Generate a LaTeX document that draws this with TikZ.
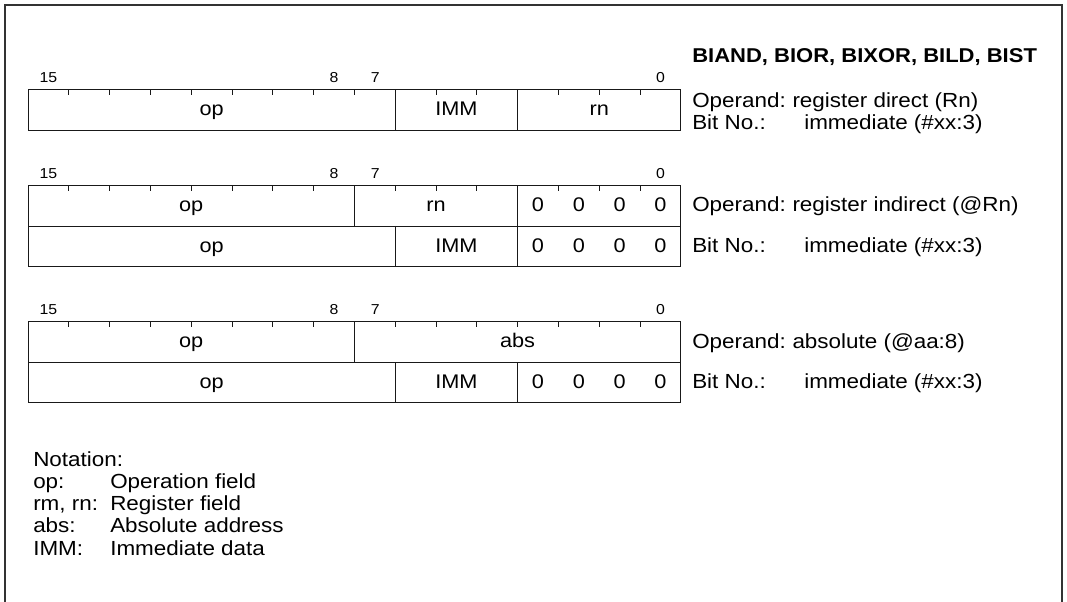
\documentclass[tikz,border=0pt]{standalone}
\usepackage{fontspec}
\setmainfont{Liberation Sans}[FakeStretch=1.1]
\usetikzlibrary{positioning}
\tikzset{%
    sheet/.style={line width=1.1pt,draw=black!80},
    field/.style={line width=0.6pt,draw=black!90},
    bittick/.style={line width=0.6pt,draw=black!90},
    bitno/.style={inner sep=0pt,anchor=base,font=\fontsize{10.8}{12}\selectfont},
    entry/.style={inner sep=0pt,anchor=base,font=\fontsize{14.8}{17}\selectfont},
    remark/.style={inner sep=0pt,anchor=base west,font=\fontsize{15.3}{18}\selectfont},
    value/.style={remark,xshift=4.6pt},
    headline/.style={inner sep=0pt,anchor=base west,font=\fontsize{15}{18}\selectfont\bfseries},
}

\begin{document}
\begin{tikzpicture}[x=0.75pt,y=-0.75pt]
        \useasboundingbox (0,0) rectangle (1067,602);
        \draw[sheet] (5,602) -- (5,5) -- (1062,5) -- (1062,602);

        \node[headline] (title) at (692,63) {BIAND, BIOR, BIXOR, BILD, BIST};

        % register direct
        \node[bitno] (hi1) at (48.4,83) {15};
        \node[bitno] (b8a) at (334,83) {8};
        \node[bitno] (b7a) at (375.2,83) {7};
        \node[bitno] (lo1) at (660.4,83) {0};
        \draw[field] (28,89.5) rectangle (680.8,130);
        \draw[field] (395.2,89.5) -- (395.2,130);
        \draw[field] (517.6,89.5) -- (517.6,130);
        \foreach \k in {1,...,8,10,11,13,14,15}
            \draw[bittick] (28+\k*40.8,89.5) -- +(0,5.7);
        \node[entry] (op1) at (211.6,115.5) {op};
        \node[entry] (imm1) at (456.4,115.5) {IMM};
        \node[entry] (rn1) at (599.2,115.5) {rn};
        \node[remark] (opd1) at (692,107.5) {Operand:};
        \node[value] (opv1) at (opd1.base east) {register direct (Rn)};
        \node[remark] (bit1) at (692,129.5) {Bit No.:};
        \node[remark] (bitv1) at (804,129.5) {immediate (\#xx:3)};

        % register indirect
        \node[bitno] (hi2) at (48.4,179) {15};
        \node[bitno] (b8b) at (334,179) {8};
        \node[bitno] (b7b) at (375.2,179) {7};
        \node[bitno] (lo2) at (660.4,179) {0};
        \draw[field] (28,185.5) rectangle (680.8,266.5);
        \draw[field] (28,226) -- (680.8,226);
        \draw[field] (354.4,185.5) -- (354.4,226);
        \draw[field] (395.2,226) -- (395.2,266.5);
        \draw[field] (517.6,185.5) -- (517.6,266.5);
        \foreach \k in {1,...,7,9,10,11,13,14,15}
            \draw[bittick] (28+\k*40.8,185.5) -- +(0,5.7);
        \node[entry] (op2a) at (191.2,211.5) {op};
        \node[entry] (rn2a) at (436,211.5) {rn};
        \node[entry] (z2a3) at (538,211.5) {0};
        \node[entry] (z2a2) at (578.8,211.5) {0};
        \node[entry] (z2a1) at (619.6,211.5) {0};
        \node[entry] (z2a0) at (660.4,211.5) {0};
        \node[entry] (op2b) at (211.6,252.5) {op};
        \node[entry] (imm2b) at (456.4,252.5) {IMM};
        \node[entry] (z2b3) at (538,252.5) {0};
        \node[entry] (z2b2) at (578.8,252.5) {0};
        \node[entry] (z2b1) at (619.6,252.5) {0};
        \node[entry] (z2b0) at (660.4,252.5) {0};
        \node[remark] (opd2) at (692,212) {Operand:};
        \node[value] (opv2) at (opd2.base east) {register indirect (@Rn)};
        \node[remark] (bit2) at (692,253) {Bit No.:};
        \node[remark] (bitv2) at (804,253) {immediate (\#xx:3)};

        % absolute
        \node[bitno] (hi3) at (48.4,315) {15};
        \node[bitno] (b8c) at (334,315) {8};
        \node[bitno] (b7c) at (375.2,315) {7};
        \node[bitno] (lo3) at (660.4,315) {0};
        \draw[field] (28,321.5) rectangle (680.8,402.5);
        \draw[field] (28,362) -- (680.8,362);
        \draw[field] (354.4,321.5) -- (354.4,362);
        \draw[field] (395.2,362) -- (395.2,402.5);
        \draw[field] (517.6,362) -- (517.6,402.5);
        \foreach \k in {1,...,7,9,10,...,15}
            \draw[bittick] (28+\k*40.8,321.5) -- +(0,5.7);
        \node[entry] (op3a) at (191.2,347.5) {op};
        \node[entry] (abs3a) at (517.6,347.5) {abs};
        \node[entry] (op3b) at (211.6,388) {op};
        \node[entry] (imm3b) at (456.4,388) {IMM};
        \node[entry] (z3b3) at (538,388) {0};
        \node[entry] (z3b2) at (578.8,388) {0};
        \node[entry] (z3b1) at (619.6,388) {0};
        \node[entry] (z3b0) at (660.4,388) {0};
        \node[remark] (opd3) at (692,348) {Operand:};
        \node[value] (opv3) at (opd3.base east) {absolute (@aa:8)};
        \node[remark] (bit3) at (692,388.5) {Bit No.:};
        \node[remark] (bitv3) at (804,388.5) {immediate (\#xx:3)};

        % notation
        \node[remark] (notes) at (33,466) {Notation:};
        \node[remark] (keyop) at (33,488.3) {op:};
        \node[remark] (txtop) at (110,488.3) {Operation field};
        \node[remark] (keyrn) at (33,510.6) {rm, rn:};
        \node[remark] (txtrn) at (110,510.6) {Register field};
        \node[remark] (keyabs) at (33,532.9) {abs:};
        \node[remark] (txtabs) at (110,532.9) {Absolute address};
        \node[remark] (keyimm) at (33,555.2) {IMM:};
        \node[remark] (txtimm) at (110,555.2) {Immediate data};
\end{tikzpicture}
\end{document}
